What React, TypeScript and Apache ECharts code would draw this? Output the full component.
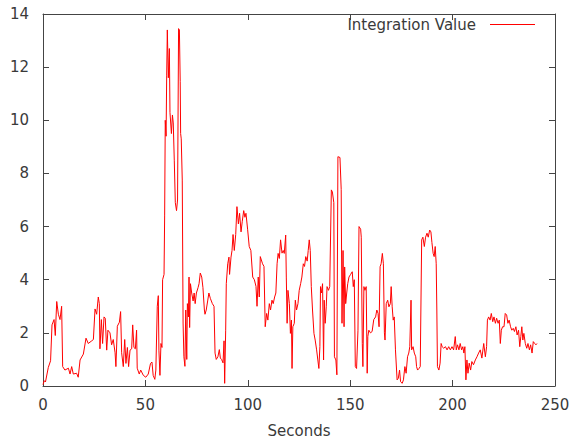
import React, { useEffect, useRef } from "react";
import * as echarts from "echarts";

const seriesName = "Integration Value";
const xAxisName = "Seconds";
const xTicks = [0, 50, 100, 150, 200, 250];
const yTicks = [0, 2, 4, 6, 8, 10, 12, 14];

const seconds: number[] = [
  0, 0.6, 1.2, 2.6, 3.7, 4.4, 5.4, 6.0, 6.7, 7.5, 8.3, 9.1, 9.6, 10.7, 12.4, 13.2, 14.0, 14.8, 16.4, 17.2,
  18.1, 19.7, 21.0, 22.1, 23.8, 24.6, 25.4, 26.2, 27.0, 27.5, 27.8, 28.5, 29.1, 29.8, 30.4, 31.1, 31.7, 32.7, 33.5, 34.3,
  35.2, 35.6, 36.3, 37.3, 37.9, 38.4, 39.2, 39.9, 40.5, 41.2, 41.8, 42.5, 43.3, 43.8, 44.4, 45.1, 45.7, 46.0, 47.0, 47.7,
  49.0, 50.2, 51.4, 52.5, 53.2, 53.8, 54.6, 55.1, 55.8, 56.3, 56.6, 57.1, 57.6, 58.1, 58.4, 59.1, 59.4, 59.7, 60.1, 60.4,
  60.7, 61.2, 61.7, 62.0, 62.7, 63.2, 63.6, 64.1, 64.6, 65.2, 65.7, 66.2, 66.6, 67.0, 67.2, 67.5, 68.0, 68.4, 68.8, 69.3,
  69.7, 70.2, 70.5, 71.0, 71.3, 71.6, 72.0, 72.6, 73.3, 73.8, 74.3, 74.9, 75.7, 76.2, 76.8, 77.5, 78.1, 78.8, 79.1, 79.7,
  80.4, 81.0, 81.7, 82.7, 83.5, 84.0, 84.6, 85.4, 86.1, 86.6, 87.2, 87.9, 88.4, 88.7, 89.2, 89.5, 90.2, 90.8, 91.1, 91.8,
  92.3, 92.8, 93.4, 94.1, 94.7, 95.4, 96.0, 96.7, 97.3, 98.0, 98.6, 99.1, 99.9, 100.7, 101.5, 102.4, 103.2, 104.0, 104.5, 105.1,
  105.6, 106.1, 107.2, 107.9, 108.5, 109.2, 109.8, 110.5, 111.1, 111.8, 112.4, 113.1, 113.7, 114.3, 114.8, 115.4, 116.0, 116.7, 117.3, 117.8,
  118.5, 118.8, 119.2, 119.6, 120.3, 120.8, 121.3, 121.6, 122.0, 122.7, 123.2, 123.8, 124.5, 125.1, 125.8, 126.4, 127.1, 127.7, 128.3, 129.0,
  129.5, 130.0, 130.5, 131.0, 131.6, 132.3, 132.9, 133.6, 134.2, 134.7, 135.2, 135.5, 136.0, 136.5, 137.0, 137.3, 137.8, 138.3, 138.7, 139.4,
  140.0, 140.8, 141.3, 142.0, 142.3, 143.0, 143.5, 144.0, 145.0, 145.6, 146.0, 146.5, 147.0, 147.3, 147.8, 148.3, 148.8, 149.4, 150.2, 151.0,
  151.5, 152.0, 152.5, 153.1, 153.8, 154.3, 155.1, 155.4, 155.9, 156.2, 156.7, 157.2, 157.8, 158.3, 158.6, 159.1, 159.9, 160.7, 161.5, 162.4,
  163.0, 163.6, 164.1, 164.6, 165.1, 165.7, 166.2, 166.7, 167.0, 167.6, 168.3, 168.9, 169.6, 170.0, 170.5, 171.0, 171.5, 172.1, 172.9, 173.5,
  174.1, 174.6, 175.4, 176.0, 176.7, 177.3, 178.0, 178.6, 179.1, 179.7, 180.0, 180.7, 181.3, 182.0, 182.4, 182.9, 183.6, 184.2, 184.9, 185.5,
  186.2, 186.8, 187.5, 188.1, 188.8, 189.4, 189.9, 190.5, 191.0, 191.5, 192.0, 192.3, 192.6, 193.3, 193.9, 194.4, 194.9, 195.7, 196.5, 197.3,
  198.1, 198.9, 199.7, 200.5, 201.3, 201.8, 202.4, 203.1, 203.7, 204.4, 205.0, 205.5, 206.0, 206.5, 207.0, 207.5, 208.1, 208.8, 209.4, 210.2,
  211.1, 211.9, 212.7, 213.5, 214.3, 215.2, 216.0, 216.6, 217.0, 217.6, 218.3, 218.9, 219.6, 220.2, 220.9, 221.5, 222.2, 222.8, 223.3, 223.8,
  224.4, 225.1, 225.7, 226.4, 227.0, 227.6, 228.3, 228.9, 229.6, 230.2, 230.9, 231.5, 232.2, 232.8, 233.3, 233.8, 234.3, 234.8, 235.5, 236.2,
  236.8, 237.5, 238.1, 238.8, 239.4, 240.1, 240.7, 241.2,
];

const values: number[] = [
  0.05, 0.2, 0.15, 0.7, 0.95, 2.3, 2.5, 1.9, 3.18, 2.7, 2.5, 3.0, 0.73, 0.6, 0.67, 0.45, 0.73, 0.45, 0.48, 0.33,
  0.98, 1.2, 1.8, 1.6, 1.7, 1.75, 2.9, 2.7, 3.35, 3.1, 1.4, 2.5, 1.6, 2.6, 2.55, 1.35, 2.1, 2.0, 1.55, 1.75,
  1.25, 0.73, 2.25, 2.4, 2.8, 1.25, 0.73, 1.75, 0.85, 1.45, 0.73, 1.35, 1.4, 2.3, 1.45, 1.4, 2.1, 0.67, 0.45, 0.6,
  0.4, 0.33, 0.45, 0.85, 0.9, 0.4, 0.25, 0.6, 3.0, 3.4, 1.35, 0.4, 1.6, 1.45, 4.0, 4.2, 6.4, 10.0, 9.4, 11.7,
  13.4, 11.6, 12.7, 10.3, 9.5, 10.2, 9.9, 8.5, 6.9, 6.6, 7.0, 13.45, 13.4, 11.45, 9.5, 9.3, 7.75, 2.37, 1.1, 0.74,
  2.86, 1.0, 3.1, 2.6, 4.1, 2.2, 3.85, 3.5, 3.2, 3.5, 3.1, 3.5, 3.7, 3.85, 4.25, 4.1, 3.7, 2.86, 2.7, 2.86,
  3.2, 3.5, 3.3, 3.1, 3.0, 1.24, 1.0, 1.1, 1.37, 1.05, 1.0, 0.87, 1.7, 0.1, 2.1, 3.85, 4.6, 4.85, 4.2, 4.85,
  5.1, 5.7, 5.1, 5.7, 6.75, 6.1, 6.5, 5.8, 6.2, 6.6, 6.35, 6.5, 5.9, 5.25, 5.1, 4.1, 4.0, 3.75, 3.0, 4.1,
  3.35, 4.87, 4.6, 4.5, 2.23, 2.73, 2.48, 3.1, 2.86, 3.23, 3.1, 3.35, 3.5, 4.6, 4.99, 4.8, 5.5, 5.0, 5.1, 4.99,
  5.68, 4.1, 2.36, 3.6, 3.1, 1.98, 2.48, 0.66, 2.23, 2.36, 3.23, 2.86, 3.1, 3.6, 3.85, 4.1, 4.6, 4.5, 4.87, 4.7,
  5.1, 5.5, 5.1, 3.74, 2.86, 1.98, 1.73, 1.36, 0.98, 0.66, 1.48, 3.74, 3.5, 3.85, 0.98, 3.23, 2.36, 2.98, 3.74, 3.6,
  3.74, 7.38, 7.3, 6.9, 1.1, 0.98, 0.42, 8.63, 8.6, 7.4, 2.36, 5.1, 2.23, 4.48, 3.1, 3.5, 3.85, 4.1, 4.2, 4.3,
  3.74, 4.0, 0.73, 0.66, 2.1, 6.0, 5.9, 5.6, 1.6, 0.73, 3.74, 3.6, 3.74, 0.48, 1.86, 2.1, 2.0, 2.05, 2.5, 2.6,
  2.86, 2.73, 2.23, 4.49, 4.6, 4.99, 4.6, 2.0, 1.73, 3.1, 3.23, 2.98, 3.1, 3.74, 2.98, 2.48, 2.6, 1.36, 0.23, 0.29,
  0.6, 0.16, 0.1, 0.23, 0.73, 0.48, 1.1, 1.24, 1.48, 3.23, 1.36, 1.48, 1.24, 1.1, 0.73, 0.6, 0.66, 0.73, 5.5, 5.6,
  5.25, 5.6, 5.75, 5.6, 5.87, 5.8, 5.4, 4.99, 4.87, 5.25, 4.6, 2.86, 0.73, 0.6, 0.86, 1.6, 1.48, 1.42, 1.48, 1.36,
  1.48, 1.36, 1.48, 1.36, 1.86, 1.36, 1.55, 1.36, 1.6, 1.36, 1.48, 1.24, 1.48, 0.23, 0.98, 0.48, 0.86, 0.6, 0.92, 0.8,
  0.98, 1.1, 1.24, 1.36, 1.05, 1.6, 1.1, 1.48, 2.48, 2.6, 2.48, 2.73, 2.42, 2.6, 2.36, 2.55, 2.36, 2.48, 1.6, 2.1,
  2.23, 2.23, 2.73, 2.67, 2.36, 2.48, 2.23, 2.1, 2.17, 2.05, 2.23, 1.92, 2.1, 1.48, 1.86, 2.23, 1.73, 1.98, 1.6, 1.42,
  1.6, 1.36, 1.55, 1.24, 1.67, 1.6, 1.55, 1.6,
];

const FONT = "DejaVu Sans";
const FONT_SIZE = 15;
const LABEL_COLOR = "#3a3a3a";
const AXIS_COLOR = "#444";
const LINE_COLOR = "#ff0000";

export default function App() {
  const ref = useRef<HTMLDivElement>(null);

  useEffect(() => {
    document.body.style.margin = "0";
    if (!ref.current) return;
    const chart = echarts.init(ref.current, undefined, { renderer: "svg" });
    const data = seconds.map((s, i) => [s, values[i]]);
    const xMin = xTicks[0];
    const xMax = xTicks[xTicks.length - 1];
    const xInt = xTicks[1] - xTicks[0];
    const yMin = yTicks[0];
    const yMax = yTicks[yTicks.length - 1];
    const yInt = yTicks[1] - yTicks[0];
    const tick = { show: true, inside: true, length: 6, lineStyle: { color: AXIS_COLOR, width: 1 } };
    const line = { show: true, onZero: false, lineStyle: { color: AXIS_COLOR, width: 1 } };
    chart.setOption({
      animation: false,
      backgroundColor: "#fff",
      grid: { left: 43, right: 16, top: 14, bottom: 53, containLabel: false, outerBoundsMode: "none" },
      legend: {
        data: [seriesName],
        right: 36,
        top: 17,
        padding: 0,
        align: "right",
        icon: "rect",
        itemWidth: 45,
        itemHeight: 1,
        itemGap: 10,
        itemStyle: { color: LINE_COLOR, borderWidth: 0 },
        textStyle: { color: LABEL_COLOR, fontFamily: FONT, fontSize: FONT_SIZE, padding: [0, 9, 0, 0] },
      },
      xAxis: [
        {
          type: "value",
          min: xMin,
          max: xMax,
          interval: xInt,
          position: "bottom",
          name: xAxisName,
          nameLocation: "middle",
          nameGap: 37,
          nameTextStyle: { color: LABEL_COLOR, fontFamily: FONT, fontSize: FONT_SIZE },
          axisLine: line,
          axisTick: tick,
          axisLabel: { color: LABEL_COLOR, fontFamily: FONT, fontSize: FONT_SIZE, margin: 11 },
          splitLine: { show: false },
        },
        {
          type: "value",
          min: xMin,
          max: xMax,
          interval: xInt,
          position: "top",
          axisLine: line,
          axisTick: tick,
          axisLabel: { show: false },
          splitLine: { show: false },
        },
      ],
      yAxis: [
        {
          type: "value",
          min: yMin,
          max: yMax,
          interval: yInt,
          position: "left",
          axisLine: line,
          axisTick: tick,
          axisLabel: { color: LABEL_COLOR, fontFamily: FONT, fontSize: FONT_SIZE, margin: 14 },
          splitLine: { show: false },
        },
        {
          type: "value",
          min: yMin,
          max: yMax,
          interval: yInt,
          position: "right",
          axisLine: line,
          axisTick: tick,
          axisLabel: { show: false },
          splitLine: { show: false },
        },
      ],
      series: [
        {
          name: seriesName,
          type: "line",
          data,
          showSymbol: false,
          symbol: "none",
          color: LINE_COLOR,
          itemStyle: { color: LINE_COLOR },
          lineStyle: { color: LINE_COLOR, width: 1 },
        },
      ],
    });
    return () => chart.dispose();
  }, []);

  return <div ref={ref} style={{ width: 571, height: 439 }} />;
}
